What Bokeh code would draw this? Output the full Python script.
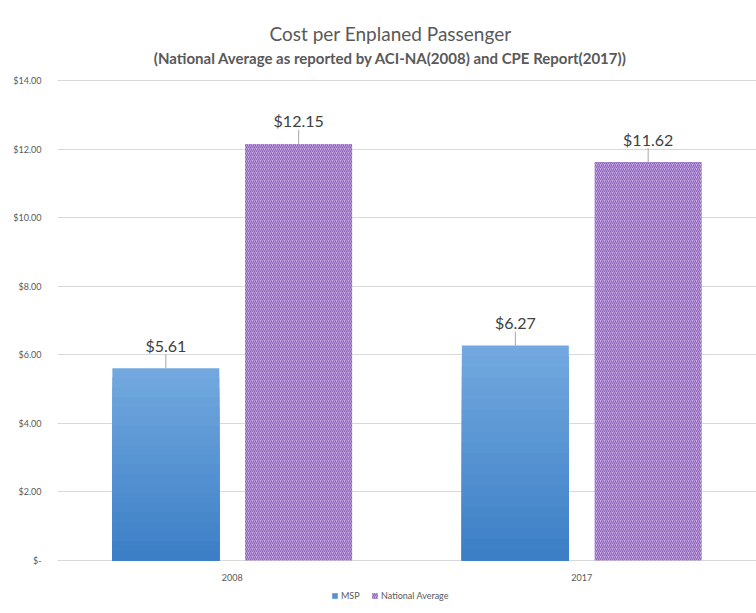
from bokeh.plotting import figure
from bokeh.models import (FactorRange, Range1d, FixedTicker, Legend, LegendItem,
                          Label, ColumnDataSource)
from bokeh.transform import dodge
from bokeh.core.properties import value
from bokeh.embed import file_html
from bokeh.resources import INLINE

# ---- data ----
years = ["2008", "2017"]
msp = [5.61, 6.27]
national = [12.15, 11.62]
series_names = ["MSP", "National Average"]
y_ticks = [0, 2, 4, 6, 8, 10, 12, 14]
y_tick_labels = ["$-", "$2.00", "$4.00", "$6.00", "$8.00", "$10.00", "$12.00", "$14.00"]
title_text = "Cost per Enplaned Passenger"
subtitle_text = "(National Average as reported by ACI-NA(2008) and CPE Report(2017))"

# ---- layout (pixels) ----
FONT = "Lato"
W, H = 756, 613
B_LEFT = 57
PLOT_TOP, PLOT_BOTTOM = 80, 560        # where the value axis max / zero sit
px_per_unit = (PLOT_BOTTOM - PLOT_TOP) / (y_ticks[-1] - y_ticks[0])
y_start = y_ticks[0] - (H - PLOT_BOTTOM) / px_per_unit
y_end = y_ticks[-1] + PLOT_TOP / px_per_unit
lead_px = 14

src = ColumnDataSource(dict(
    year=years,
    base=[y_ticks[0]] * len(years),
    msp=msp,
    national=national,
    msp_lead=[v + lead_px / px_per_unit for v in msp],
    nat_lead=[v + lead_px / px_per_unit for v in national],
    msp_txt=["${:.2f}".format(v) for v in msp],
    nat_txt=["${:.2f}".format(v) for v in national],
))

p = figure(x_range=FactorRange(*years, range_padding=0),
           y_range=Range1d(y_start, y_end),
           width=W, height=H, title=None,
           output_backend="svg", toolbar_location=None,
           min_border_left=B_LEFT, min_border_right=0,
           min_border_top=0, min_border_bottom=0)
p.outline_line_color = None
p.background_fill_color = "white"
p.border_fill_color = "white"

OFF = 0.19
BW = 0.306

# gradient-like blue bars
def lerp(c1, c2, t):
    a = [int(c1[i:i + 2], 16) for i in (1, 3, 5)]
    b = [int(c2[i:i + 2], 16) for i in (1, 3, 5)]
    return "#" + "".join("{:02x}".format(round(a[j] + (b[j] - a[j]) * t)) for j in range(3))

TOP_C, BOT_C = "#72a8df", "#3c7fc6"
N = 20
msp_renderers = []
for k in range(N):
    frac = (N - k) / N
    col = "msp_%d" % k
    src.data[col] = [v * frac for v in msp]
    r = p.vbar(x=dodge("year", -OFF, range=p.x_range), top=col, width=BW, source=src,
               fill_color=lerp(TOP_C, BOT_C, k / (N - 1)), line_color=None)
    msp_renderers.append(r)

r_nat = p.vbar(x=dodge("year", OFF, range=p.x_range), top="national", width=BW, source=src,
               fill_color="#c8afe2", line_color=None,
               hatch_pattern="right_diagonal_line", hatch_color="#8c60bc",
               hatch_scale=4, hatch_weight=1.1)

# leader lines
for key, lead, off in (("msp", "msp_lead", -OFF), ("national", "nat_lead", OFF)):
    p.segment(x0=dodge("year", off, range=p.x_range), y0=key,
              x1=dodge("year", off, range=p.x_range), y1=lead,
              source=src, line_color="#a6a6a6", line_width=1)

# data labels
for key, txt, off in (("msp", "msp_txt", -OFF), ("national", "nat_txt", OFF)):
    p.text(x=dodge("year", off, range=p.x_range), y=key, text=txt, source=src,
           text_align="center", text_baseline="middle", y_offset=-23,
           text_font=value(FONT), text_font_size="16px", text_color="#404040")

# category labels (x axis)
p.text(x="year", y="base", text="year", source=src, text_align="center",
       text_baseline="middle", y_offset=17, text_font=value(FONT),
       text_font_size="9px", text_color="#595959")
p.xaxis.visible = False

# y axis
p.yaxis.ticker = FixedTicker(ticks=y_ticks)
p.yaxis.major_label_overrides = {t: l for t, l in zip(y_ticks, y_tick_labels)}
p.yaxis.axis_line_color = None
p.yaxis.major_tick_line_color = None
p.yaxis.minor_tick_line_color = None
p.yaxis.major_label_text_font = FONT
p.yaxis.major_label_text_font_size = "9px"
p.yaxis.major_label_text_color = "#595959"
p.yaxis.major_label_standoff = 10
p.xgrid.grid_line_color = None
p.ygrid.grid_line_color = "#d9d9d9"
p.ygrid.grid_line_width = 1

# titles (screen units: from frame's bottom-left, y up)
CX = 390 - B_LEFT
p.add_layout(Label(x=CX, y=H - 33, x_units="screen", y_units="screen", text=title_text,
                   text_align="center", text_baseline="middle", text_font=FONT,
                   text_font_size="19px", text_color="#595959"))
p.add_layout(Label(x=CX, y=H - 57, x_units="screen", y_units="screen", text=subtitle_text,
                   text_align="center", text_baseline="middle", text_font=FONT,
                   text_font_size="15px", text_font_style="bold", text_color="#595959"))

# legend
legend = Legend(items=[LegendItem(label=series_names[0], renderers=[msp_renderers[N // 2]]),
                       LegendItem(label=series_names[1], renderers=[r_nat])],
                orientation="horizontal", location=(274, 12),
                label_text_font=FONT, label_text_font_size="9px", label_text_color="#595959",
                glyph_width=7, glyph_height=7, label_standoff=3, spacing=10,
                padding=2, margin=0, border_line_color=None, background_fill_alpha=0,
                label_height=9)
p.add_layout(legend)

open("out.html", "w").write(file_html(p, INLINE))
